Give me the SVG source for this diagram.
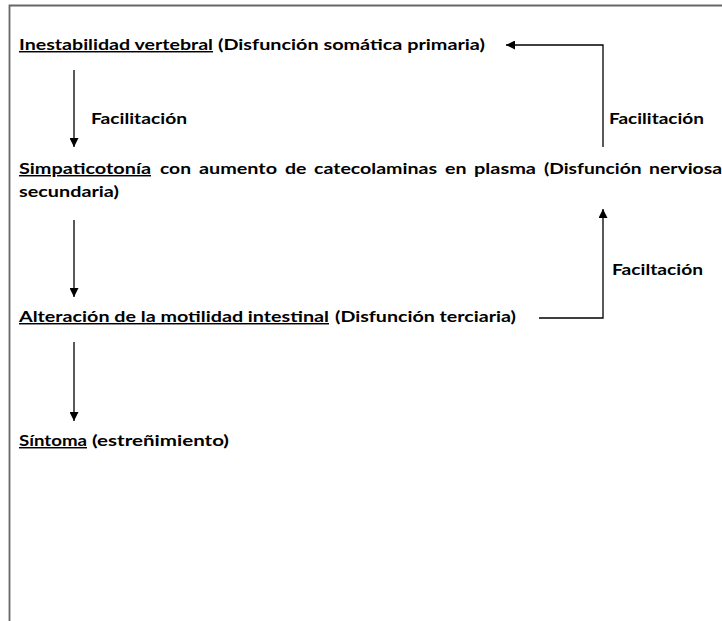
<svg xmlns="http://www.w3.org/2000/svg" width="722" height="621" viewBox="0 0 722 621">
<style>
.t{font-family:Lato,"Liberation Sans",sans-serif;font-weight:bold;font-size:14.5px;fill:#000}
.u{text-decoration:underline}
.c{stroke:#000;stroke-width:1.3;fill:none}
</style>
<defs>
<marker id="ah" viewBox="0 0 10 10" refX="10" refY="5" markerWidth="9" markerHeight="9" markerUnits="userSpaceOnUse" orient="auto">
<path d="M0,0 L10,5 L0,10 z" fill="#000"/>
</marker>
</defs>
<rect width="722" height="621" fill="#fff"/>
<g id="frame">
<path d="M9.5,621 V5.5 H722" fill="none" stroke="#666" stroke-width="1.8"/>
</g>
<g id="connectors">
<line class="c" x1="74" y1="70" x2="74" y2="147" marker-end="url(#ah)"/>
<line class="c" x1="74" y1="220" x2="74" y2="297" marker-end="url(#ah)"/>
<line class="c" x1="74" y1="342" x2="74" y2="421" marker-end="url(#ah)"/>
<polyline class="c" points="603,147 603,45 506,45" marker-end="url(#ah)"/>
<polyline class="c" points="539,318 603,318 603,209" marker-end="url(#ah)"/>
<text class="t" x="91" y="124" textLength="96" lengthAdjust="spacingAndGlyphs">Facilitación</text>
<text class="t" x="609" y="124" textLength="95" lengthAdjust="spacingAndGlyphs">Facilitación</text>
<text class="t" x="612" y="275" textLength="91" lengthAdjust="spacingAndGlyphs">Faciltación</text>
</g>
<g id="n1">
<text class="t u" x="19" y="50" textLength="194" lengthAdjust="spacingAndGlyphs">Inestabilidad vertebral</text>
<text class="t" x="218" y="50" textLength="267" lengthAdjust="spacingAndGlyphs">(Disfunción somática primaria)</text>
</g>
<g id="n2">
<text class="t u" x="19" y="174" textLength="132" lengthAdjust="spacingAndGlyphs">Simpaticotonía</text>
<text class="t" x="160" y="174" textLength="31" lengthAdjust="spacingAndGlyphs">con</text>
<text class="t" x="199" y="174" textLength="78" lengthAdjust="spacingAndGlyphs">aumento</text>
<text class="t" x="285" y="174" textLength="21.5" lengthAdjust="spacingAndGlyphs">de</text>
<text class="t" x="314" y="174" textLength="123" lengthAdjust="spacingAndGlyphs">catecolaminas</text>
<text class="t" x="445" y="174" textLength="21.5" lengthAdjust="spacingAndGlyphs">en</text>
<text class="t" x="474" y="174" textLength="62" lengthAdjust="spacingAndGlyphs">plasma</text>
<text class="t" x="544" y="174" textLength="97.5" lengthAdjust="spacingAndGlyphs">(Disfunción</text>
<text class="t" x="649" y="174" textLength="73" lengthAdjust="spacingAndGlyphs">nerviosa</text>
<text class="t" x="19" y="197" textLength="100" lengthAdjust="spacingAndGlyphs">secundaria)</text>
</g>
<g id="n3">
<text class="t u" x="19" y="322" textLength="310" lengthAdjust="spacingAndGlyphs">Alteración de la motilidad intestinal</text>
<text class="t" x="335" y="322" textLength="181" lengthAdjust="spacingAndGlyphs">(Disfunción terciaria)</text>
</g>
<g id="n4">
<text class="t u" x="19" y="446" textLength="68" lengthAdjust="spacingAndGlyphs">Síntoma</text>
<text class="t" x="92" y="446" textLength="137" lengthAdjust="spacingAndGlyphs">(estreñimiento)</text>
</g>
</svg>
